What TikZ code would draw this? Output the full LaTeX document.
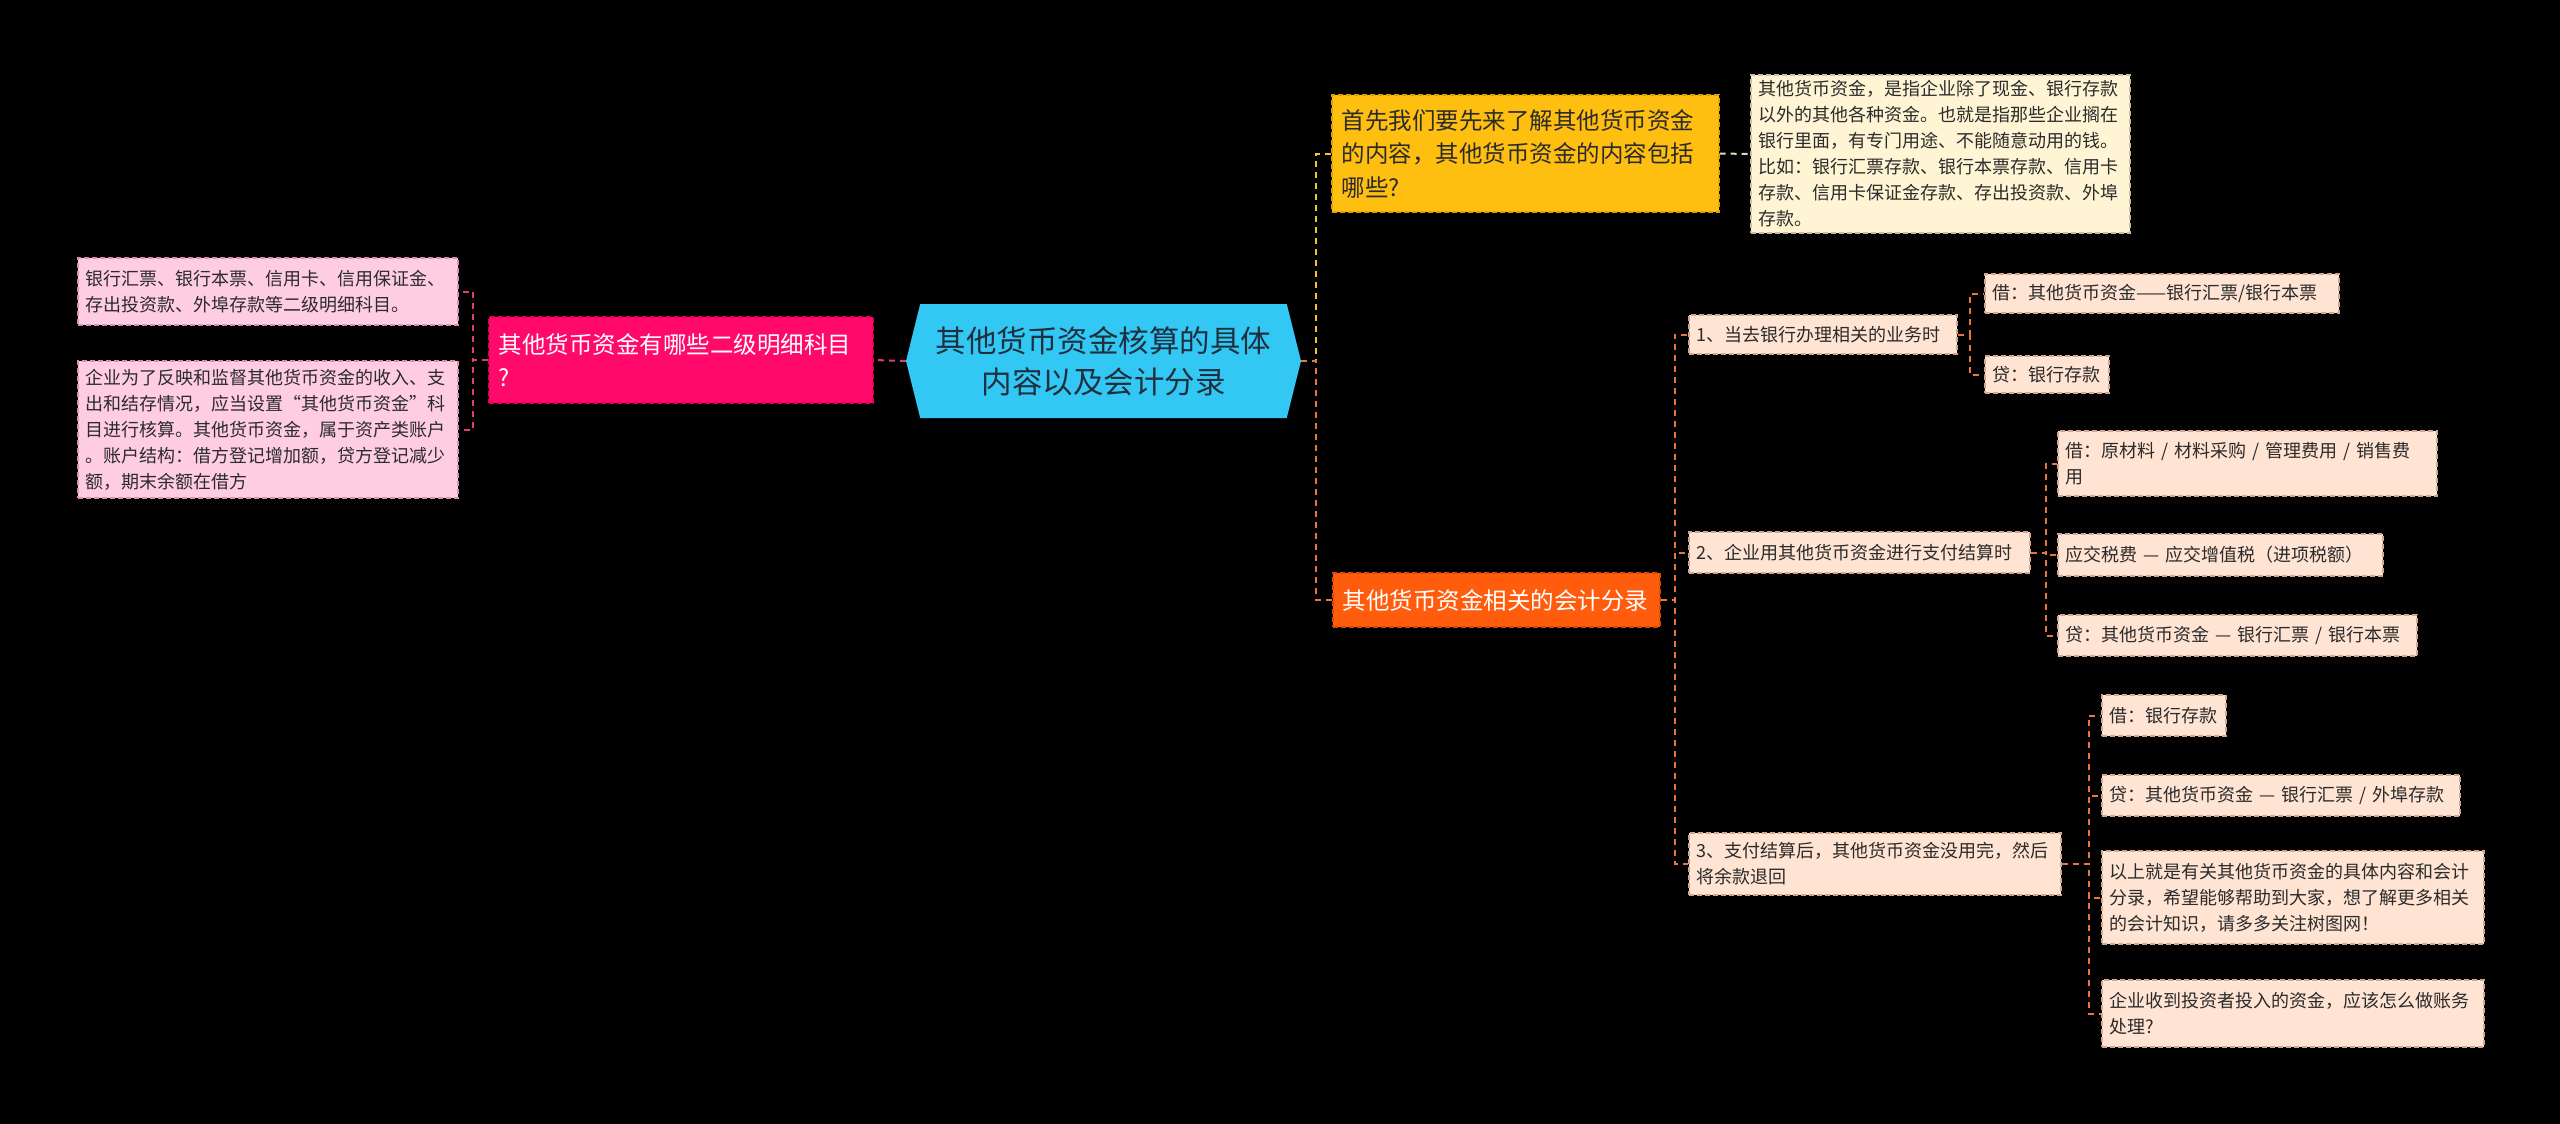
\documentclass[tikz,border=0pt]{standalone}
\usepackage{fontspec}
\setmainfont{Noto Sans CJK SC}
\usepackage{tikz}
\usetikzlibrary{shapes,shapes.symbols,positioning}

\definecolor{RootBlue}{HTML}{33C8F3}
\definecolor{RootText}{HTML}{1E3040}
\definecolor{MagFill}{HTML}{FF0A6A}
\definecolor{MagLine}{HTML}{E8005E}
\definecolor{PinkFill}{HTML}{FFCDE1}
\definecolor{PinkLine}{HTML}{D98FAF}
\definecolor{PinkLink}{HTML}{E03C78}
\definecolor{YelFill}{HTML}{FFBF10}
\definecolor{YelLine}{HTML}{E0A000}
\definecolor{YelLink}{HTML}{F2C230}
\definecolor{CreamFill}{HTML}{FFF5D5}
\definecolor{CreamLine}{HTML}{C8BEA5}
\definecolor{CreamLink}{HTML}{E8DAB0}
\definecolor{OrgFill}{HTML}{FF5C0E}
\definecolor{OrgLine}{HTML}{E04800}
\definecolor{OrgLink}{HTML}{E8763E}
\definecolor{PeachFill}{HTML}{FFE3D3}
\definecolor{PeachLine}{HTML}{D0A890}
\definecolor{TextDark}{HTML}{2B2B2B}

\begin{document}
\begin{tikzpicture}[x=1pt,y=-1pt]
			\tikzstyle{Box}		= [anchor=west, align=left, inner ysep=0pt, line width=1.5pt, dash pattern=on 5pt off 3pt]
			\tikzstyle{Small}	= [font=\fontsize{18pt}{26pt}\selectfont, inner xsep=8pt]
			\tikzstyle{Mid}		= [font=\fontsize{23.5pt}{33.5pt}\selectfont, inner xsep=10pt]
			\tikzstyle{Root}	= [shape=signal, signal to=west and east, signal pointer angle=152, fill=RootBlue, text=RootText, align=center, font=\fontsize{30.5pt}{41pt}\selectfont, minimum width=395pt, minimum height=114pt, inner sep=0pt]
			\tikzstyle{Pink}	= [fill=PinkFill, draw=PinkLine, text=TextDark]
			\tikzstyle{Mag}		= [fill=MagFill, draw=MagLine, text=white]
			\tikzstyle{Yel}		= [fill=YelFill, draw=YelLine, text=TextDark]
			\tikzstyle{Cream}	= [fill=CreamFill, draw=CreamLine, text=TextDark]
			\tikzstyle{Org}		= [fill=OrgFill, draw=OrgLine, text=white]
			\tikzstyle{Peach}	= [fill=PeachFill, draw=PeachLine, text=TextDark]
			\tikzstyle{Link}	= [line width=2pt, dash pattern=on 6pt off 5pt]
			\tikzstyle{PinkL}	= [Link, PinkLink]
			\tikzstyle{YelL}	= [Link, YelLink]
			\tikzstyle{CreamL}	= [Link, CreamLink]
			\tikzstyle{OrgL}	= [Link, OrgLink]
			
			\path [use as bounding box, fill=black] (0,0) rectangle (2560,1124);
			
			% centre
			\node (root) at (1103.5,361) [Root] {其他货币资金核算的具体\\内容以及会计分录};
			
			% left branch
			\node (mag) at (488,360) [Box][Mid][Mag][text width=364pt, minimum height=86pt] {其他货币资金有哪些二级明细科目\\?};
			\node (pinkA) at (77,291.5) [Box][Small][Pink][text width=364pt, minimum height=67pt] {银行汇票、银行本票、信用卡、信用保证金、\\存出投资款、外埠存款等二级明细科目。};
			\node (pinkB) at (77,429.5) [Box][Small][Pink][text width=364pt, minimum height=137pt] {企业为了反映和监督其他货币资金的收入、支\\出和结存情况，应当设置“其他货币资金”科\\目进行核算。其他货币资金，属于资产类账户\\。账户结构：借方登记增加额，贷方登记减少\\额，期末余额在借方};
			
			% right branch
			\node (yel) at (1331,153.5) [Box][Mid][Yel][text width=367pt, minimum height=117pt] {首先我们要先来了解其他货币资金\\的内容，其他货币资金的内容包括\\哪些?};
			\node (cream) at (1750,154) [Box][Small][Cream][text width=363pt, minimum height=158pt] {其他货币资金，是指企业除了现金、银行存款\\以外的其他各种资金。也就是指那些企业搁在\\银行里面，有专门用途、不能随意动用的钱。\\比如：银行汇票存款、银行本票存款、信用卡\\存款、信用卡保证金存款、存出投资款、外埠\\存款。};
			\node (org) at (1332,600) [Box][Mid][Org][text width=307pt, minimum height=54pt] {其他货币资金相关的会计分录};
			
			\node (sub1) at (1688,334.5) [Box][Small][Peach][text width=252pt, minimum height=39pt] {1、当去银行办理相关的业务时};
			\node (sub2) at (1688,552.5) [Box][Small][Peach][text width=325pt, minimum height=41pt] {2、企业用其他货币资金进行支付结算时};
			\node (sub3) at (1688,864) [Box][Small][Peach][text width=356pt, minimum height=62pt] {3、支付结算后，其他货币资金没用完，然后\\将余款退回};
			
			\node (s1a) at (1984,293.5) [Box][Small][Peach][text width=338pt, minimum height=39pt] {借：其他货币资金——银行汇票/银行本票};
			\node (s1b) at (1984,374.5) [Box][Small][Peach][text width=108pt, minimum height=37pt] {贷：银行存款};
			
			\node (s2a) at (2057,463.5) [Box][Small][Peach][text width=363pt, minimum height=65pt] {借：原材料 / 材料采购 / 管理费用 / 销售费\\用};
			\node (s2b) at (2057,555) [Box][Small][Peach][text width=309pt, minimum height=42pt] {应交税费 — 应交增值税（进项税额）};
			\node (s2c) at (2057,635.5) [Box][Small][Peach][text width=343pt, minimum height=41pt] {贷：其他货币资金 — 银行汇票 / 银行本票};
			
			\node (s3a) at (2101,715.5) [Box][Small][Peach][text width=108pt, minimum height=41pt] {借：银行存款};
			\node (s3b) at (2101,795.5) [Box][Small][Peach][text width=342pt, minimum height=41pt] {贷：其他货币资金 — 银行汇票 / 外埠存款};
			\node (s3c) at (2101,897.5) [Box][Small][Peach][text width=366pt, minimum height=93pt] {以上就是有关其他货币资金的具体内容和会计\\分录，希望能够帮助到大家，想了解更多相关\\的会计知识，请多多关注树图网！};
			\node (s3d) at (2101,1013.5) [Box][Small][Peach][text width=366pt, minimum height=67pt] {企业收到投资者投入的资金，应该怎么做账务\\处理?};
			
			% links
			\draw [-] (root.west) to (mag.east) [PinkL];
			\draw [-] (mag.west) -- ++(-15,0) |- (pinkA.east) [PinkL];
			\draw [-] (mag.west) -- ++(-15,0) |- (pinkB.east) [PinkL];
			
			\draw [-] (root.east) -- ++(15,0) |- (yel.west) [YelL];
			\draw [-] (yel.east) to (cream.west) [CreamL];
			\draw [-] (root.east) -- ++(15,0) |- (org.west) [OrgL];
			
			\draw [-] (org.east) -- ++(14,0) |- (sub1.west) [OrgL];
			\draw [-] (org.east) -- ++(14,0) |- (sub2.west) [OrgL];
			\draw [-] (org.east) -- ++(14,0) |- (sub3.west) [OrgL];
			
			\draw [-] (sub1.east) -- ++(12,0) |- (s1a.west) [OrgL];
			\draw [-] (sub1.east) -- ++(12,0) |- (s1b.west) [OrgL];
			
			\draw [-] (sub2.east) -- ++(15,0) |- (s2a.west) [OrgL];
			\draw [-] (sub2.east) -- ++(15,0) |- (s2b.west) [OrgL];
			\draw [-] (sub2.east) -- ++(15,0) |- (s2c.west) [OrgL];
			
			\draw [-] (sub3.east) -- ++(27,0) |- (s3a.west) [OrgL];
			\draw [-] (sub3.east) -- ++(27,0) |- (s3b.west) [OrgL];
			\draw [-] (sub3.east) -- ++(27,0) |- (s3c.west) [OrgL];
			\draw [-] (sub3.east) -- ++(27,0) |- (s3d.west) [OrgL];
		\end{tikzpicture}
\end{document}
